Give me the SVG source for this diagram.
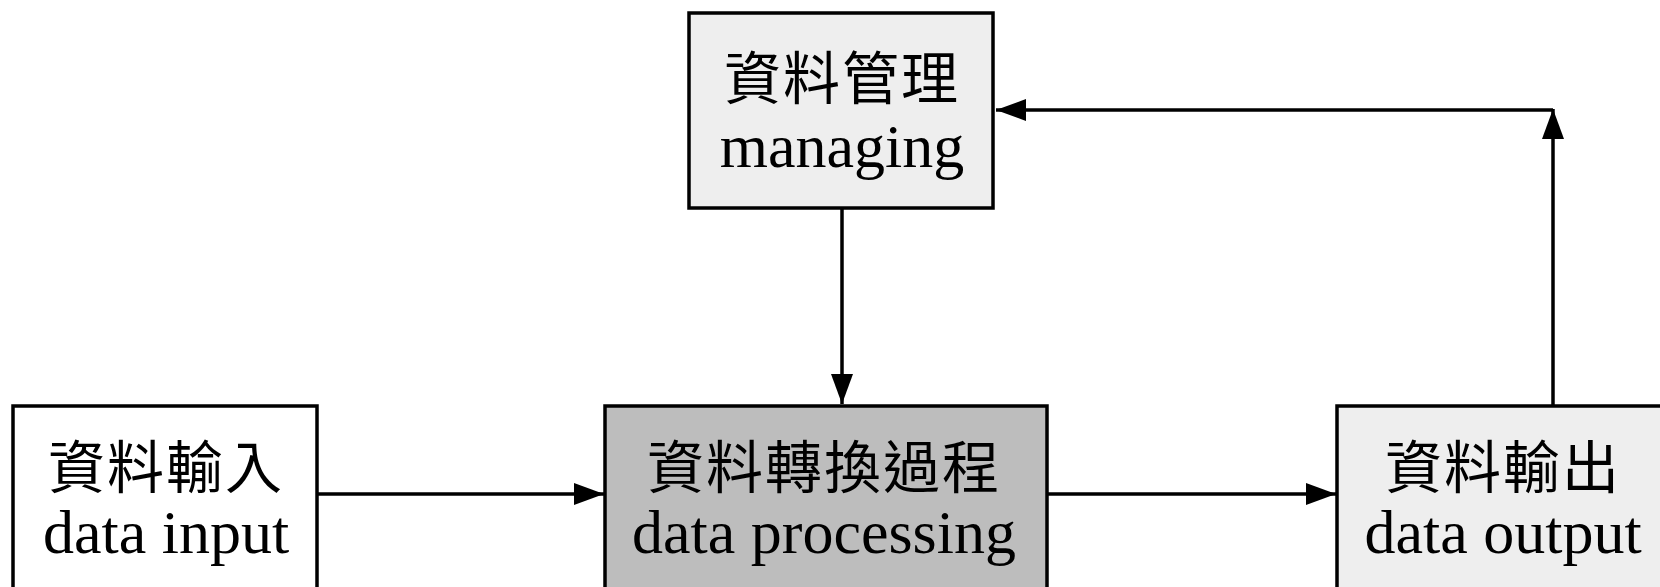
<svg xmlns="http://www.w3.org/2000/svg" width="1660" height="587" viewBox="0 0 1660 587">
<style>
.box{stroke:#000;stroke-width:3.5}
.zh{font-family:"Noto Sans CJK TC","Noto Sans CJK SC",sans-serif;font-size:57px;letter-spacing:2px;text-anchor:middle;fill:#000}
.en{font-family:"Liberation Serif",serif;font-size:62px;text-anchor:middle;fill:#000}
.conn{stroke:#000;stroke-width:3.5;fill:none}
</style>
<defs>
<marker id="ah" markerUnits="userSpaceOnUse" markerWidth="30" markerHeight="22" refX="30" refY="11" orient="auto">
<path d="M0,0 L30,11 L0,22 Z" fill="#000"/>
</marker>
</defs>
<rect width="1660" height="587" fill="#fff"/>
<g id="connectors">
<line class="conn" x1="842" y1="208" x2="842" y2="404" marker-end="url(#ah)"/>
<line class="conn" x1="317" y1="494" x2="604" y2="494" marker-end="url(#ah)"/>
<line class="conn" x1="1047" y1="494" x2="1336" y2="494" marker-end="url(#ah)"/>
<line class="conn" x1="1553" y1="406" x2="1553" y2="109" marker-end="url(#ah)"/>
<line class="conn" x1="1553" y1="110" x2="996" y2="110" marker-end="url(#ah)"/>
</g>
<g id="managing">
<rect class="box" x="689" y="13" width="304" height="195" fill="#eeeeee"/>
<text class="zh" x="842" y="99">資料管理</text>
<text class="en" x="842" y="167">managing</text>
</g>
<g id="input">
<rect class="box" x="13" y="406" width="304" height="200" fill="#ffffff"/>
<text class="zh" x="166" y="488">資料輸入</text>
<text class="en" x="166" y="553">data input</text>
</g>
<g id="processing">
<rect class="box" x="605" y="406" width="442" height="200" fill="#bdbdbd"/>
<text class="zh" x="824" y="488">資料轉換過程</text>
<text class="en" x="824" y="553">data processing</text>
</g>
<g id="output">
<rect class="box" x="1337" y="406" width="340" height="200" fill="#eeeeee"/>
<text class="zh" x="1503" y="488">資料輸出</text>
<text class="en" x="1503" y="553">data output</text>
</g>
</svg>
